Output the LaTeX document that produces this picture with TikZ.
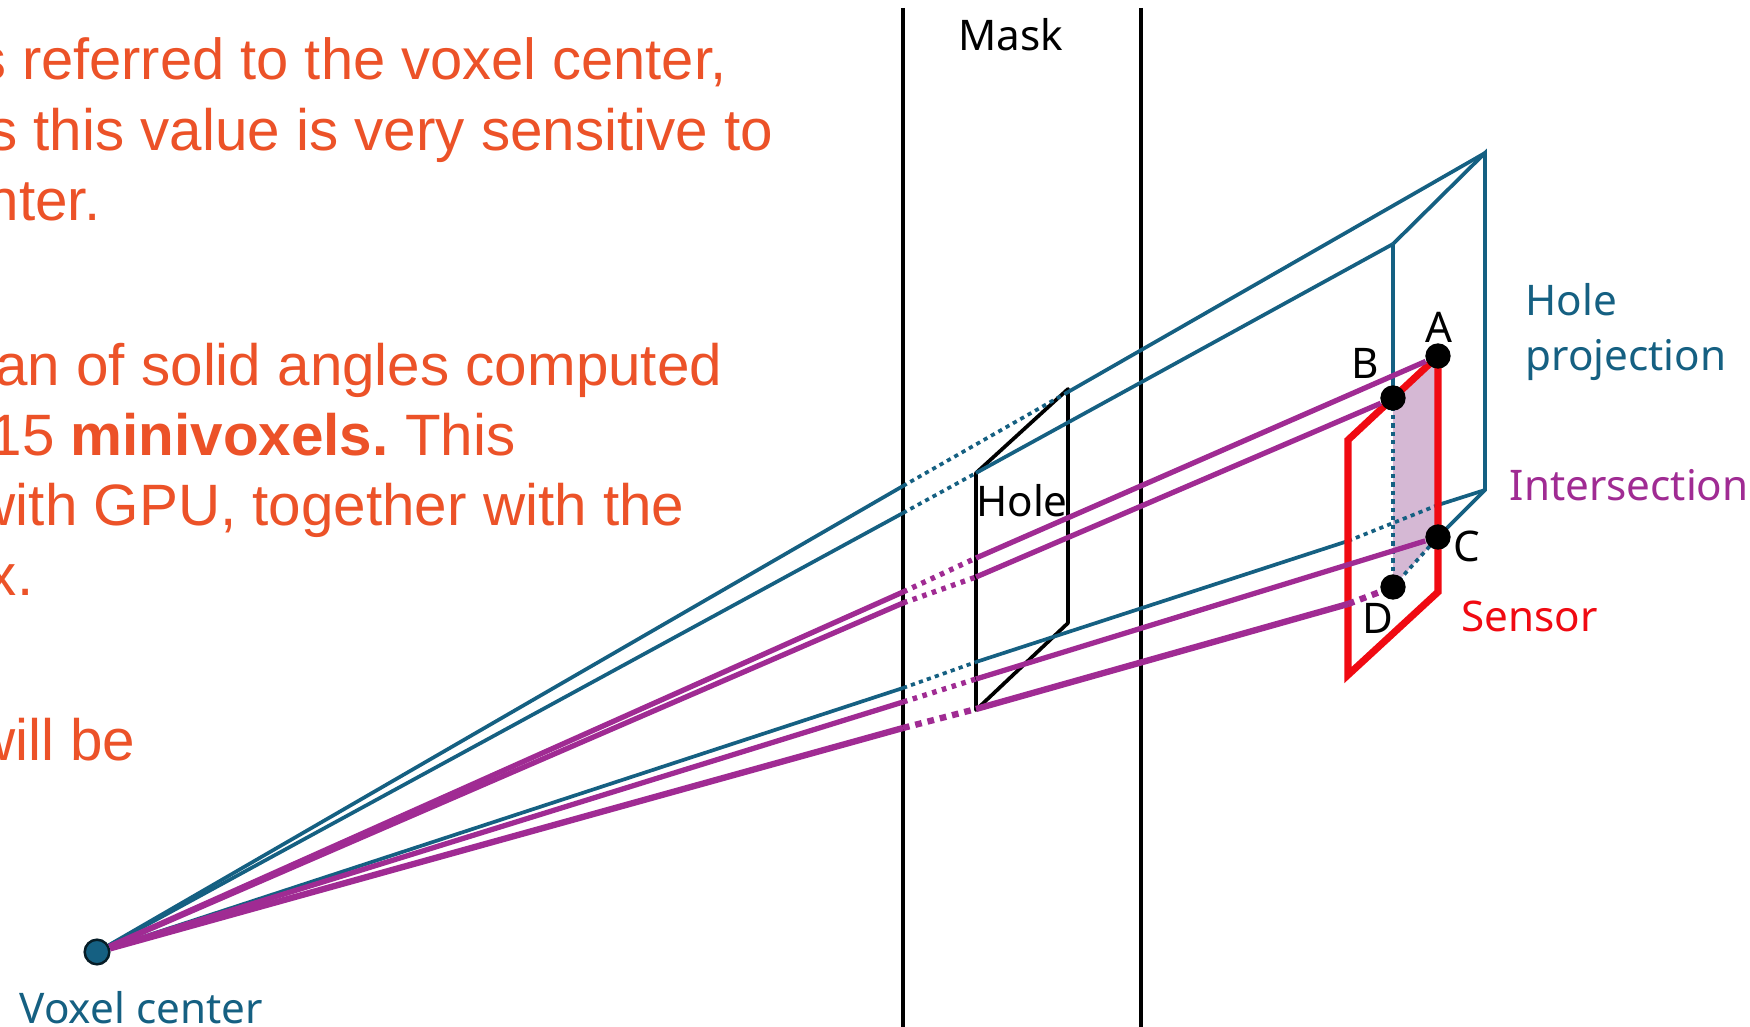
\documentclass[tikz,border=0pt]{standalone}
\usepackage{fontspec}
\setmainfont{Liberation Sans}
\newfontfamily\labelfont{Noto Sans}
\definecolor{holeblue}{HTML}{156082}
\definecolor{cutpurple}{HTML}{A02B93}
\definecolor{sensorred}{HTML}{F00A12}
\definecolor{noteorange}{HTML}{EC5228}
\definecolor{cutfill}{HTML}{D5B8D4}
\tikzset{
  note/.style={anchor=base east,inner sep=0pt,text=noteorange,font=\fontsize{16.6}{20}\selectfont},
  tag/.style={inner sep=0pt,font=\labelfont\fontsize{12}{14}\selectfont},
  corner/.style={circle,fill=black,inner sep=0pt,minimum size=7.2pt},
  holeline/.style={holeblue,line width=1.05pt},
  holedot/.style={holeblue,line width=1.05pt,dash pattern=on 1.2pt off 1.2pt},
  cutline/.style={cutpurple,line width=1.5pt},
  cutdot/.style={cutpurple,line width=1.5pt,dash pattern=on 1.3pt off 1.6pt},
  cutwide/.style={cutpurple,line width=1.8pt}
}
\begin{document}
\begin{tikzpicture}[x=0.01cm,y=-0.01cm]
\clip (0,0) rectangle (1750,1027);
\fill[white] (0,0) rectangle (1750,1027);
\node[note,font=\fontsize{16.45}{20}\selectfont] (note1) at (727,80) {s referred to the voxel center,};
\node[note] (note2) at (774,150.5) {s this value is very sensitive to};
\node[note] (note3) at (101,220) {nter.};
\node[note] (note4) at (723,385) {an of solid angles computed};
\node[note] (note5) at (516,455) {15 \textbf{minivoxels.}\hspace{-1.5pt} This};
\node[note] (note6) at (685,525.5) {with GPU, together with the};
\node[note] (note7) at (34,595) {x.};
\node[note] (note8) at (136,760) {will be};
\coordinate (pa) at (1438,356);
\coordinate (pb) at (1393,398);
\coordinate (pc) at (1438,537);
\coordinate (pd) at (1393,587);
\coordinate (backtop) at (1485,153);
\coordinate (fronttop) at (1393,244);
\coordinate (backlow) at (1485,490);
\fill[cutfill] (pa) -- (pb) -- (pd) -- (pc) -- cycle;
\draw[black,line width=1.05pt] (903,8) -- (903,1027);
\draw[black,line width=1.05pt] (1141,8) -- (1141,1027);
\draw[black,line width=1.05pt,line join=round] (976,473) -- (1068,389) -- (1068,623) -- (976,710) -- cycle;
\node[circle,fill=holeblue,draw=black!70!holeblue,line width=0.7pt,inner sep=0pt,minimum size=7pt] (vox) at (97,952) {};
\draw[holeline] (vox) -- (903,486);
\draw[holedot] (903,486) -- (1068,392);
\draw[holeline] (1068,392) -- (backtop);
\draw[holeline] (vox) -- (903,513);
\draw[holedot] (903,513) -- (976,473);
\draw[holeline] (976,473) -- (fronttop);
\draw[holeline] (vox) -- (903,688);
\draw[holedot] (903,688) -- (976,662);
\draw[holeline] (976,662) -- (1348,541);
\draw[holedot] (1348,541) -- (1438,505);
\draw[holeline] (1438,505) -- (backlow);
\draw[holeline] (fronttop) -- (backtop) -- (backlow) -- (pc);
\draw[holeline] (fronttop) -- (pb);
\draw[holedot] (pb) -- (pd);
\draw[holedot] (pd) -- (pc);
\draw[sensorred,line width=2pt,line join=miter] (pa) -- (1348,440) -- (1348,675) -- (1438,592) -- cycle;
\node[corner] (a) at (pa) {};
\node[corner] (b) at (pb) {};
\node[corner] (c) at (pc) {};
\node[corner] (d) at (pd) {};
\foreach \n/\my/\hy in {a/592/558,b/603/577,c/702/679}{
  \draw[cutline] (vox) -- (903,\my);
  \draw[cutdot] (903,\my) -- (976,\hy);
  \draw[cutline] (976,\hy) -- (\n);
}
\draw[cutwide] (vox) -- (903,728);
\draw[cutwide,dash pattern=on 1.9pt off 1.7pt] (903,728) -- (976,709);
\draw[cutwide] (976,709) -- (1348,604);
\draw[cutwide,dash pattern=on 1.9pt off 1.7pt] (1348,604) -- (d);
\node[tag,anchor=base] (masklabel) at (1011,51) {Mask};
\node[tag,anchor=base] (holelabel) at (1022,516) {Hole};
\node[tag,anchor=base] (alabel) at (1439,342) {A};
\node[tag,anchor=base] (blabel) at (1365,378) {B};
\node[tag,anchor=base] (clabel) at (1467,561) {C};
\node[tag,anchor=base] (dlabel) at (1378,633) {D};
\node[tag,anchor=base west,text=holeblue] (projlabel) at (1525,315) {Hole};
\node[tag,anchor=base west,text=holeblue] (projlabel2) at (1525,370) {projection};
\node[tag,anchor=base west,text=cutpurple] (cutlabel) at (1509,500) {Intersection};
\node[tag,anchor=base west,text=sensorred] (sensorlabel) at (1461,631) {Sensor};
\node[tag,anchor=base west,text=holeblue] (voxlabel) at (19,1023) {Voxel center};
\end{tikzpicture}
\end{document}
